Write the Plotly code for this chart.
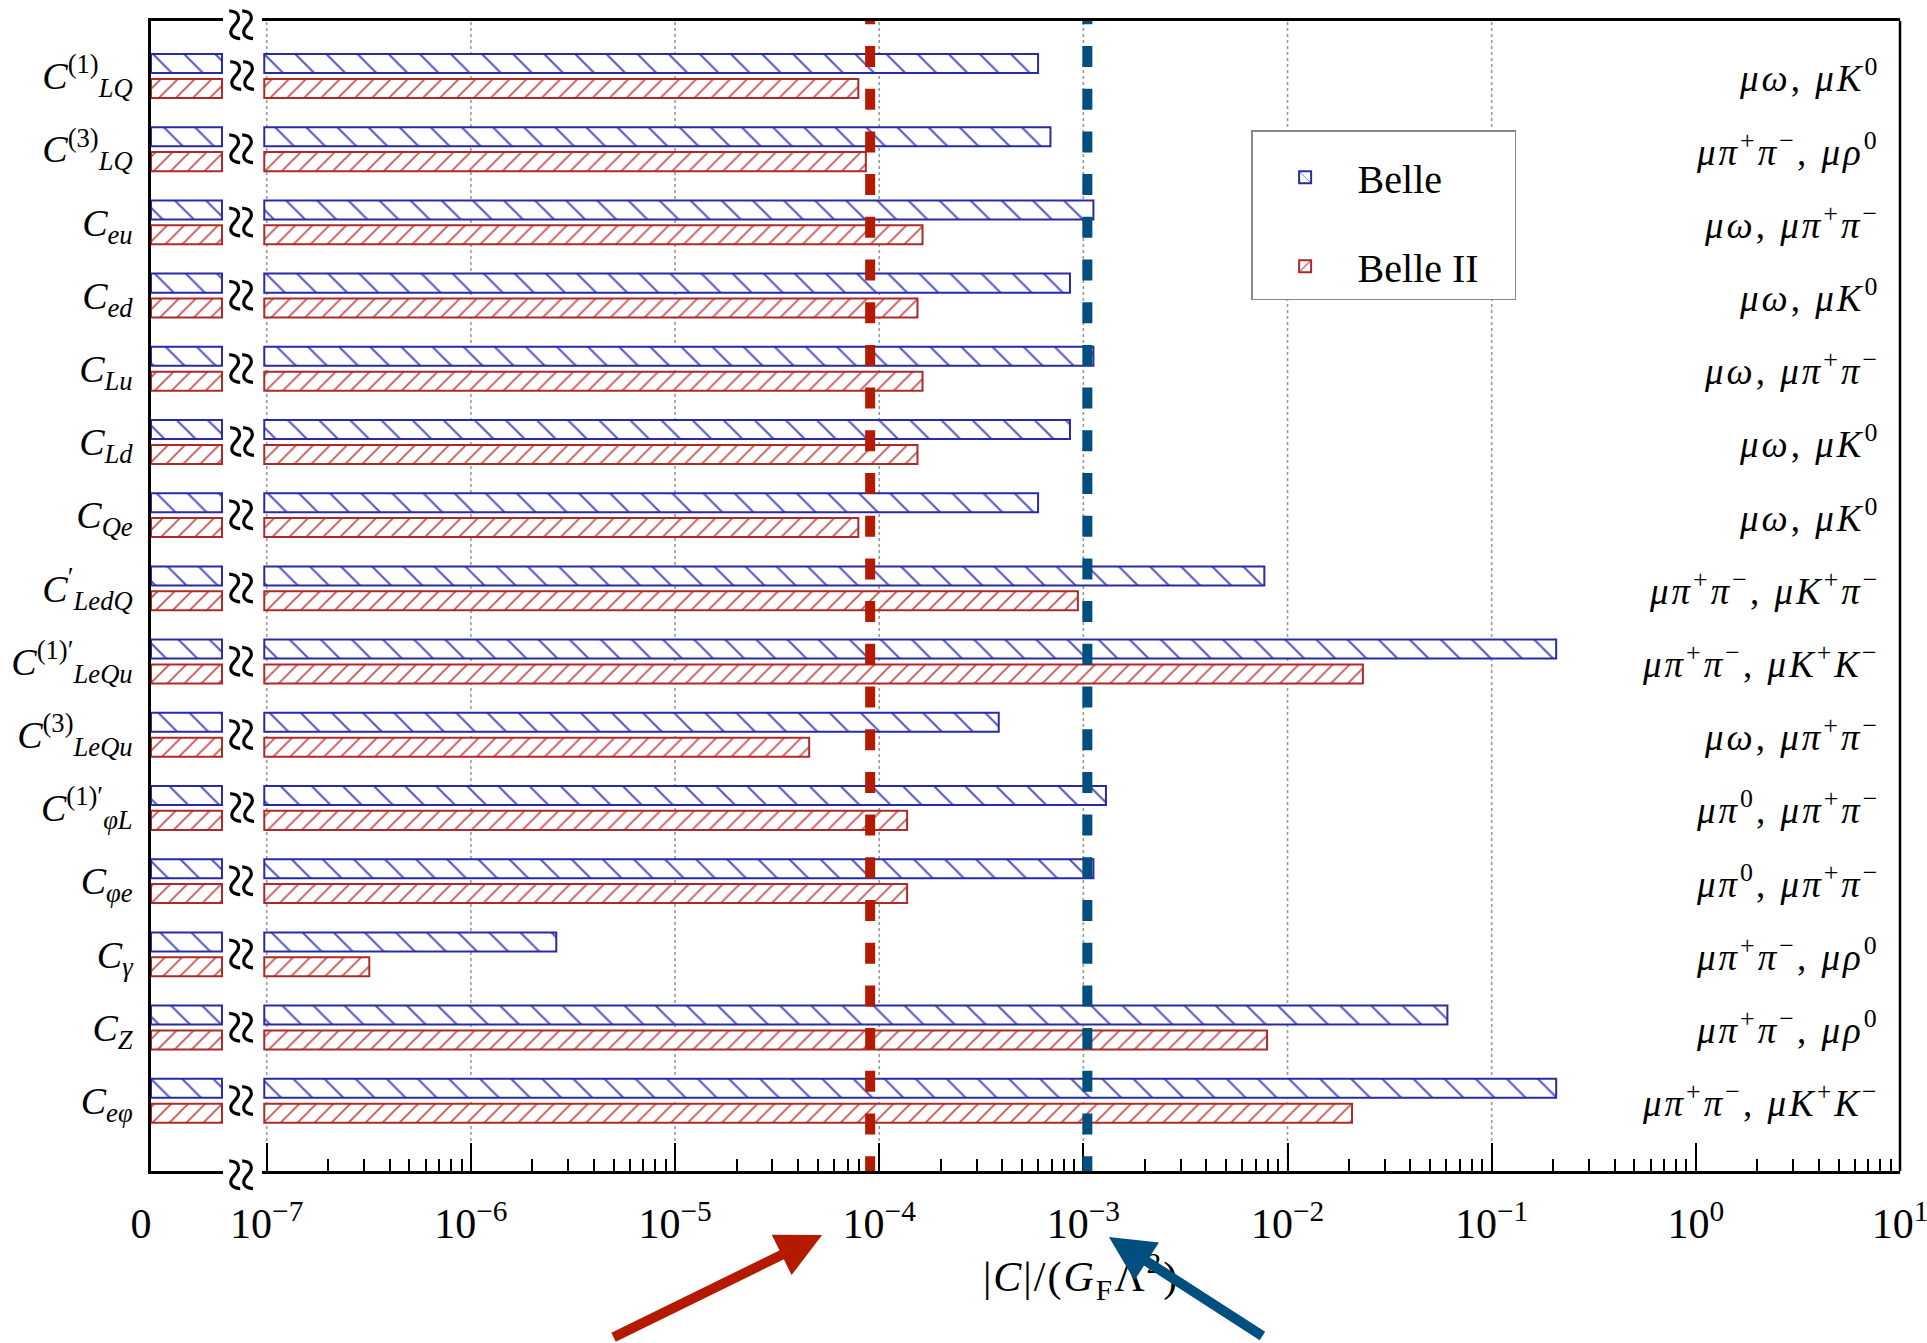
import plotly.graph_objects as go

# ---------------- data ----------------
operators = [
    "<i>C</i><sup>(1)</sup><sub><i>LQ</i></sub>",
    "<i>C</i><sup>(3)</sup><sub><i>LQ</i></sub>",
    "<i>C</i><sub><i>eu</i></sub>",
    "<i>C</i><sub><i>ed</i></sub>",
    "<i>C</i><sub><i>Lu</i></sub>",
    "<i>C</i><sub><i>Ld</i></sub>",
    "<i>C</i><sub><i>Qe</i></sub>",
    "<i>C</i><sup>′</sup><sub><i>LedQ</i></sub>",
    "<i>C</i><sup>(1)′</sup><sub><i>LeQu</i></sub>",
    "<i>C</i><sup>(3)</sup><sub><i>LeQu</i></sub>",
    "<i>C</i><sup>(1)′</sup><sub><i>φL</i></sub>",
    "<i>C</i><sub><i>φe</i></sub>",
    "<i>C</i><sub><i>γ</i></sub>",
    "<i>C</i><sub><i>Z</i></sub>",
    "<i>C</i><sub><i>eφ</i></sub>",
]

belle = [6.0e-4, 6.9e-4, 1.12e-3, 8.6e-4, 1.12e-3, 8.6e-4, 6.0e-4, 7.7e-3,
         0.207, 3.85e-4, 1.29e-3, 1.12e-3, 2.62e-6, 0.0607, 0.207]
belle2 = [7.9e-5, 8.6e-5, 1.63e-4, 1.54e-4, 1.63e-4, 1.54e-4, 7.9e-5, 9.4e-4,
          0.0234, 4.54e-5, 1.37e-4, 1.37e-4, 3.18e-7, 7.94e-3, 0.0207]

channels = [
    "<i>μω</i>, <i>μK</i><sup>0</sup>",
    "<i>μπ</i><sup>+</sup><i>π</i><sup>−</sup>, <i>μρ</i><sup>0</sup>",
    "<i>μω</i>, <i>μπ</i><sup>+</sup><i>π</i><sup>−</sup>",
    "<i>μω</i>, <i>μK</i><sup>0</sup>",
    "<i>μω</i>, <i>μπ</i><sup>+</sup><i>π</i><sup>−</sup>",
    "<i>μω</i>, <i>μK</i><sup>0</sup>",
    "<i>μω</i>, <i>μK</i><sup>0</sup>",
    "<i>μπ</i><sup>+</sup><i>π</i><sup>−</sup>, <i>μK</i><sup>+</sup><i>π</i><sup>−</sup>",
    "<i>μπ</i><sup>+</sup><i>π</i><sup>−</sup>, <i>μK</i><sup>+</sup><i>K</i><sup>−</sup>",
    "<i>μω</i>, <i>μπ</i><sup>+</sup><i>π</i><sup>−</sup>",
    "<i>μπ</i><sup>0</sup>, <i>μπ</i><sup>+</sup><i>π</i><sup>−</sup>",
    "<i>μπ</i><sup>0</sup>, <i>μπ</i><sup>+</sup><i>π</i><sup>−</sup>",
    "<i>μπ</i><sup>+</sup><i>π</i><sup>−</sup>, <i>μρ</i><sup>0</sup>",
    "<i>μπ</i><sup>+</sup><i>π</i><sup>−</sup>, <i>μρ</i><sup>0</sup>",
    "<i>μπ</i><sup>+</sup><i>π</i><sup>−</sup>, <i>μK</i><sup>+</sup><i>K</i><sup>−</sup>",
]

tick_vals = [1e-7, 1e-6, 1e-5, 1e-4, 1e-3, 1e-2, 1e-1, 1e0, 1e1]
tick_text = ["10<sup>−7</sup>", "10<sup>−6</sup>", "10<sup>−5</sup>", "10<sup>−4</sup>",
             "10<sup>−3</sup>", "10<sup>−2</sup>", "10<sup>−1</sup>", "10<sup>0</sup>",
             "10<sup>1</sup>"]
grid_vals = [1e-7, 1e-6, 1e-5, 1e-4, 1e-3, 1e-2, 1e-1]

belle_reach = 1.046e-3   # blue dashed line
belle2_reach = 9.03e-5   # red dashed line

# ---------------- style ----------------
FONT = "Liberation Serif"
BLUE_EDGE, BLUE_HATCH = "#2a2aa6", "#5a5ac6"
RED_EDGE, RED_HATCH = "#ad2a2a", "#c85a5a"
RED_LINE, BLUE_LINE = "#b41a00", "#004f7e"
PAD = "\u00a0\u00a0\u00a0"   # widens the legend box on the right

pos = list(range(len(operators)))
LOG_RANGE = [-7.022, 1.0]
BAR_BASE = 10 ** -7.012
Y_RANGE = [14.96, -0.751]
BAR_W = 0.26

fig = go.Figure()

series = [
    ("Belle", belle, BLUE_EDGE, BLUE_HATCH, "\\", 22, 0.10, -0.30),
    ("Belle II", belle2, RED_EDGE, RED_HATCH, "/", 12, 0.16, 0.04),
]
for name, vals, edge, hatch, shp, size, sol, off in series:
    marker = dict(color="white", line=dict(color=edge, width=2),
                  pattern=dict(shape=shp, size=size, solidity=sol, fgcolor=hatch,
                               bgcolor="white", fillmode="replace"))
    fig.add_trace(go.Bar(
        y=pos, x=[v - BAR_BASE for v in vals], base=BAR_BASE, orientation="h",
        xaxis="x2", yaxis="y", width=BAR_W, offset=off, marker=marker,
        name=name + PAD, legendgroup=name, customdata=vals,
        hovertemplate="%{customdata:.3g}<extra>" + name + "</extra>"))
    # stub section (0 ... break) — every limit passes through it
    fig.add_trace(go.Bar(
        y=pos, x=[0.985 if v > 0 else 0 for v in vals], orientation="h",
        xaxis="x", yaxis="y", width=BAR_W, offset=off, marker=marker,
        showlegend=False, legendgroup=name, hoverinfo="skip"))

# dotted gridlines
for g in grid_vals:
    fig.add_shape(type="line", xref="x2", yref="y domain", x0=g, x1=g, y0=0, y1=1,
                  layer="below", line=dict(color="#9a9a9a", width=1.6, dash="dot"))

# thick dashed reach lines
for val, col in [(belle2_reach, RED_LINE), (belle_reach, BLUE_LINE)]:
    fig.add_shape(type="line", xref="x2", yref="y", x0=val, x1=val,
                  y0=Y_RANGE[1] - 0.242, y1=Y_RANGE[0],
                  line=dict(color=col, width=10, dash="21px,21.7px"))

# right frame line
fig.add_shape(type="line", xref="paper", yref="paper", x0=1, x1=1, y0=0, y1=1,
              line=dict(color="black", width=2.5))

# channel labels
for i, txt in enumerate(channels):
    fig.add_annotation(x=0.9895, xref="paper", y=i, yref="y",
                       text='<span style="letter-spacing:3px">' + txt + "</span>",
                       showarrow=False, xanchor="right", yanchor="middle",
                       font=dict(family=FONT, size=37, color="black"))

# axis-break marks (rotated "≈")
BREAK_X = 0.0518
BREAK_FONT = 64
for i in pos:
    fig.add_annotation(x=BREAK_X, xref="paper", y=i, yref="y", text="≈", textangle=90,
                       showarrow=False, xanchor="center", yanchor="middle",
                       font=dict(family=FONT, size=BREAK_FONT, color="black"))
for yy in (0, 1):
    fig.add_annotation(x=BREAK_X, xref="paper", y=yy, yref="paper", text="≈",
                       textangle=90, showarrow=False, xanchor="center",
                       yanchor="middle", yshift=-4,
                       font=dict(family=FONT, size=BREAK_FONT, color="black"))

# arrows pointing at the reach lines
fig.add_annotation(x=0.3837, y=-0.0557, xref="paper", yref="paper", text="",
                   showarrow=True, ax=-210, ay=103, arrowhead=2, arrowsize=0.9,
                   arrowwidth=10, arrowcolor=RED_LINE, standoff=0)
fig.add_annotation(x=0.5477, y=-0.0574, xref="paper", yref="paper", text="",
                   showarrow=True, ax=155, ay=100, arrowhead=2, arrowsize=0.9,
                   arrowwidth=10, arrowcolor=BLUE_LINE, standoff=0)

axis_line = dict(showline=True, linecolor="black", linewidth=2.5, mirror=True,
                 showgrid=False, zeroline=False, automargin=False)

fig.update_layout(
    width=1927, height=1343, autosize=False,
    margin=dict(l=151, r=27, t=21, b=172, autoexpand=False),
    paper_bgcolor="white", plot_bgcolor="white",
    barmode="overlay",
    font=dict(family=FONT, color="black", size=34),
    xaxis=dict(domain=[0, 0.0412], range=[0, 1], tickvals=[0], ticktext=["0"],
               ticks="", anchor="y", ticklabelshift=-10, ticklabelstandoff=14,
               tickfont=dict(size=42), ticklabeloverflow="allow", **axis_line),
    xaxis2=dict(domain=[0.0636, 1], type="log", range=LOG_RANGE, anchor="y",
                tickvals=tick_vals, ticktext=tick_text, ticks="inside", ticklen=28,
                tickwidth=2, tickcolor="black", ticklabelstandoff=14,
                tickfont=dict(size=42), ticklabeloverflow="allow",
                minor=dict(ticks="inside", ticklen=12, tickwidth=1.8,
                           tickcolor="black", dtick="D1", showgrid=False),
                title=dict(text='<span style="letter-spacing:2px">|<i>C</i>|/(<i>G</i><sub>F</sub>Λ<sup>2</sup>)</span>',
                           font=dict(size=42), standoff=14),
                **axis_line),
    yaxis=dict(range=Y_RANGE, tickvals=pos, ticktext=operators, ticks="",
               anchor="x", showline=True, linecolor="black", linewidth=2.5,
               showgrid=False, zeroline=False, ticklabelstandoff=8,
               automargin=False, ticklabeloverflow="allow",
               tickfont=dict(size=38)),
    legend=dict(x=0.629, y=0.905, xanchor="left", yanchor="top",
                bgcolor="white", bordercolor="#888888", borderwidth=1.5,
                font=dict(family=FONT, size=40), tracegroupgap=34,
                itemwidth=95,
                title=dict(text=" ", font=dict(size=10))),
)

fig.write_html("out.html")
